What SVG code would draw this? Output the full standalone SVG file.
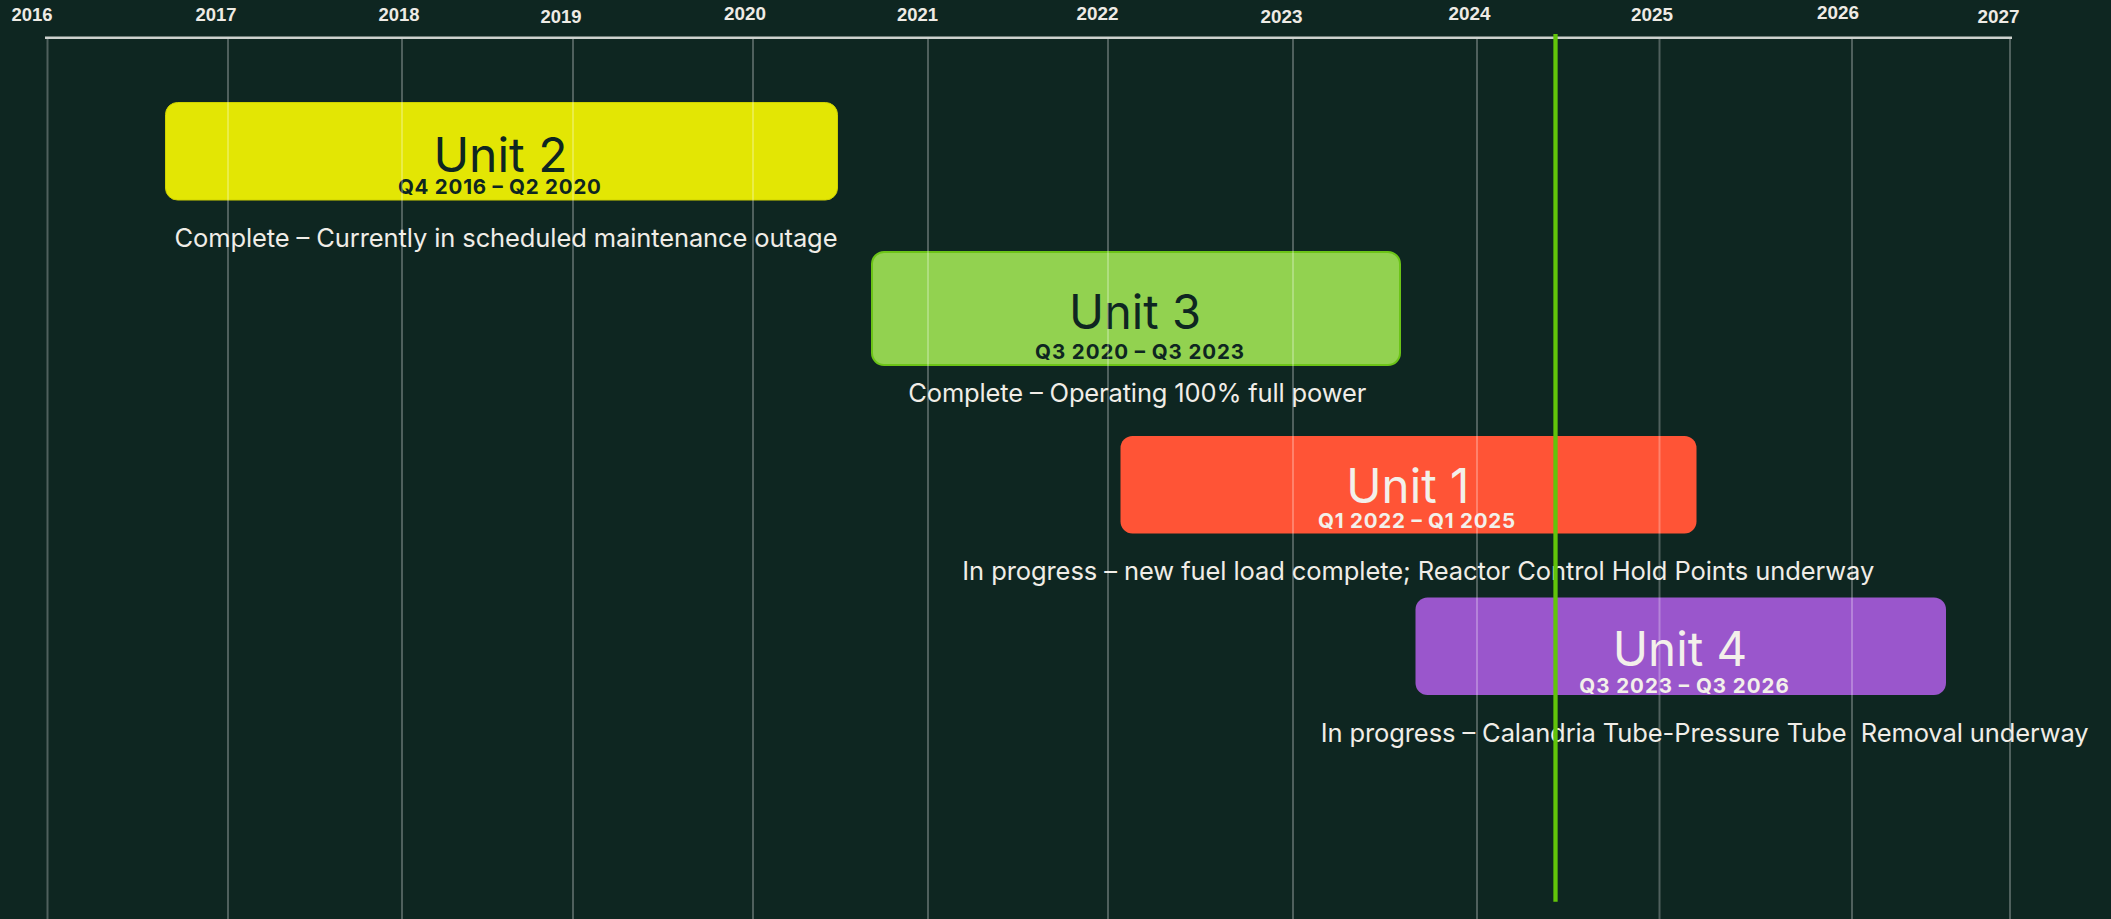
<svg xmlns="http://www.w3.org/2000/svg" width="2111" height="919" viewBox="0 0 2111 919">
  <style>
    .year { font-family: "Liberation Sans", Arial, sans-serif; font-weight: 700; font-size: 18.7px; fill: #eeebe5; text-anchor: middle; }
    .title { font-family: Inter, "Liberation Sans", sans-serif; font-weight: 400; font-size: 48px; text-anchor: middle; }
    .dates { font-family: Inter, "Liberation Sans", sans-serif; font-weight: 700; font-size: 20.5px; text-anchor: middle; }
    .desc { font-family: Inter, "Liberation Sans", sans-serif; font-weight: 400; font-size: 25.5px; fill: #f0ede7; text-anchor: middle; }
    .dark { fill: #0e2621; }
    .light { fill: #f3f0ea; }
    .grid line { stroke: #ffffff; stroke-opacity: 0.27; stroke-width: 2; }
  </style>
  <rect x="0" y="0" width="2111" height="919" fill="#0e2621"/>

  <g id="axis">
    <line x1="45" y1="37.8" x2="2012" y2="37.8" stroke="#cdd1ce" stroke-width="2.6"/>
    <text class="year" x="32" y="20.7" textLength="41" lengthAdjust="spacingAndGlyphs">2016</text>
    <text class="year" x="216" y="21" textLength="41" lengthAdjust="spacingAndGlyphs">2017</text>
    <text class="year" x="399" y="21" textLength="41" lengthAdjust="spacingAndGlyphs">2018</text>
    <text class="year" x="561" y="22.6" textLength="41" lengthAdjust="spacingAndGlyphs">2019</text>
    <text class="year" x="745" y="20" textLength="42" lengthAdjust="spacingAndGlyphs">2020</text>
    <text class="year" x="917.5" y="21" textLength="41" lengthAdjust="spacingAndGlyphs">2021</text>
    <text class="year" x="1097.4" y="20" textLength="42" lengthAdjust="spacingAndGlyphs">2022</text>
    <text class="year" x="1281.4" y="22.6" textLength="42" lengthAdjust="spacingAndGlyphs">2023</text>
    <text class="year" x="1469.5" y="20" textLength="42" lengthAdjust="spacingAndGlyphs">2024</text>
    <text class="year" x="1652" y="20.6" textLength="42" lengthAdjust="spacingAndGlyphs">2025</text>
    <text class="year" x="1838" y="18.6" textLength="42" lengthAdjust="spacingAndGlyphs">2026</text>
    <text class="year" x="1998.6" y="22.8" textLength="42" lengthAdjust="spacingAndGlyphs">2027</text>
  </g>

  <g id="unit2">
    <rect x="165.5" y="102.5" width="672" height="97.5" rx="12" fill="#e3e604" stroke="#cfd200" stroke-width="1"/>
    <text class="title dark" x="500.4" y="171.7" textLength="134" lengthAdjust="spacingAndGlyphs">Unit 2</text>
    <text class="dates dark" x="499.4" y="194.3" textLength="203" lengthAdjust="spacing">Q4 2016 – Q2 2020</text>
    <text class="desc" x="506" y="246.7" textLength="663" lengthAdjust="spacing">Complete – Currently in scheduled maintenance outage</text>
  </g>

  <g id="unit3">
    <rect x="872" y="252" width="528" height="113" rx="12" fill="#92d250" stroke="#6cc417" stroke-width="2"/>
    <text class="title dark" x="1135" y="329.3" textLength="132" lengthAdjust="spacingAndGlyphs">Unit 3</text>
    <text class="dates dark" x="1139.6" y="358.7" textLength="209" lengthAdjust="spacing">Q3 2020 – Q3 2023</text>
    <text class="desc" x="1137.3" y="402.3" textLength="458" lengthAdjust="spacing">Complete – Operating 100% full power</text>
  </g>

  <g id="unit1">
    <rect x="1120.5" y="436" width="576" height="97.5" rx="12" fill="#ff5436"/>
    <text class="title light" x="1407.8" y="503.3" textLength="123" lengthAdjust="spacingAndGlyphs">Unit 1</text>
    <text class="dates light" x="1416.6" y="527.7" textLength="197" lengthAdjust="spacing">Q1 2022 – Q1 2025</text>
    <text class="desc" x="1418.3" y="580" textLength="912" lengthAdjust="spacing">In progress – new fuel load complete; Reactor Control Hold Points underway</text>
  </g>

  <g id="unit4">
    <rect x="1415.5" y="597.5" width="530.5" height="97.5" rx="12" fill="#9a56cc"/>
    <text class="title light" x="1680" y="666" textLength="134.5" lengthAdjust="spacingAndGlyphs">Unit 4</text>
    <text class="dates light" x="1684" y="693.3" textLength="209.5" lengthAdjust="spacing">Q3 2023 – Q3 2026</text>
    <text class="desc" x="1704.7" y="742.3" textLength="768" lengthAdjust="spacing" xml:space="preserve">In progress – Calandria Tube-Pressure Tube  Removal underway</text>
  </g>

  <g id="grid" class="grid">
    <line x1="47.5" y1="39" x2="47.5" y2="919"/>
    <line x1="228" y1="39" x2="228" y2="919"/>
    <line x1="402" y1="39" x2="402" y2="919"/>
    <line x1="573" y1="39" x2="573" y2="919"/>
    <line x1="753" y1="39" x2="753" y2="919"/>
    <line x1="928" y1="39" x2="928" y2="919"/>
    <line x1="1108" y1="39" x2="1108" y2="919"/>
    <line x1="1293" y1="39" x2="1293" y2="919"/>
    <line x1="1477" y1="39" x2="1477" y2="919"/>
    <line x1="1659.5" y1="39" x2="1659.5" y2="919"/>
    <line x1="1852" y1="39" x2="1852" y2="919"/>
    <line x1="2010" y1="39" x2="2010" y2="919"/>
  </g>

  <g id="today-marker">
    <line x1="1555.5" y1="34" x2="1555.5" y2="901.7" stroke="#62c40a" stroke-width="4.3"/>
  </g>
</svg>
